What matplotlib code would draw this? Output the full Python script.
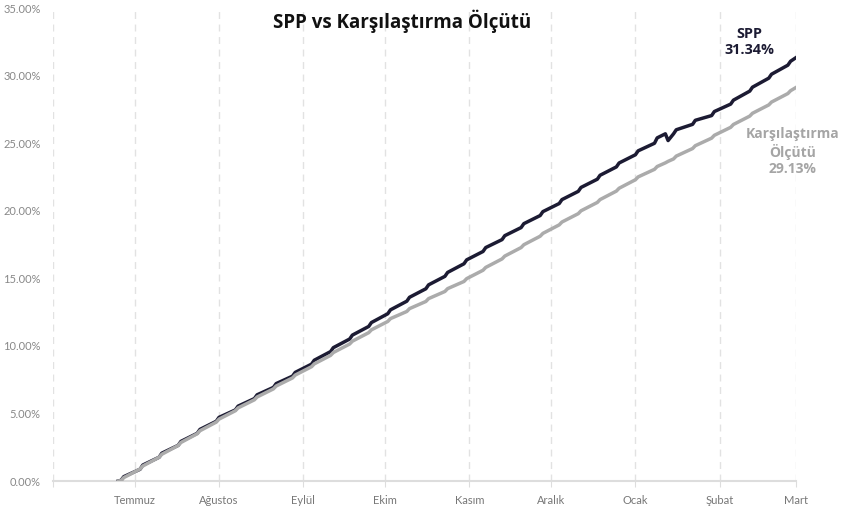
import pandas as pd
import matplotlib.pyplot as plt
from matplotlib.ticker import FuncFormatter

plt.rcParams['font.family'] = ['Lato', 'DejaVu Sans']

# weekly readings (Thursday close, Friday close) in %
thursdays = pd.date_range('2025-06-26', periods=36, freq='7D')

spp_thu = [0.05, 0.87, 1.76, 2.64, 3.53, 4.42, 5.26, 6.10, 6.93, 7.76,
           8.65, 9.58, 10.51, 11.44, 12.38, 13.31, 14.23, 15.15, 16.08, 16.99,
           17.87, 18.76, 19.65, 20.54, 21.44, 22.34, 23.25, 24.15, 25.00, 25.70,
           26.40, 27.05, 27.90, 28.86, 29.82, 30.78]
spp_fri = [0.32, 1.18, 2.06, 2.93, 3.82, 4.71, 5.54, 6.38, 7.21, 8.04,
           8.94, 9.87, 10.80, 11.73, 12.67, 13.60, 14.52, 15.44, 16.37, 17.28,
           18.16, 19.05, 19.94, 20.83, 21.73, 22.63, 23.54, 24.44, 25.40, 26.00,
           26.70, 27.35, 28.19, 29.15, 30.11, 31.07]
bench_thu = [0.03, 0.89, 1.76, 2.63, 3.50, 4.36, 5.20, 6.01, 6.82, 7.63,
             8.46, 9.30, 10.14, 10.98, 11.81, 12.55, 13.29, 14.03, 14.77, 15.60,
             16.44, 17.28, 18.12, 18.96, 19.79, 20.62, 21.46, 22.30, 23.07, 23.84,
             24.61, 25.38, 26.18, 27.01, 27.84, 28.68]
bench_fri = [0.25, 1.11, 1.98, 2.85, 3.72, 4.58, 5.41, 6.22, 7.03, 7.84,
             8.67, 9.51, 10.35, 11.19, 12.02, 12.76, 13.50, 14.24, 14.98, 15.81,
             16.65, 17.49, 18.33, 19.17, 20.00, 20.83, 21.67, 22.51, 23.28, 24.05,
             24.82, 25.59, 26.39, 27.22, 28.05, 28.89]

# extra points: start, mid-January dip, end
extra_dates = pd.to_datetime(['2025-06-25', '2026-01-12', '2026-01-13', '2026-03-01'])
spp_extra = [0.0, 25.70, 25.20, 31.34]
bench_extra = [0.0, 23.55, 23.66, 29.13]

months = ['', 'Temmuz', 'Ağustos', 'Eylül', 'Ekim', 'Kasım', 'Aralık', 'Ocak', 'Şubat', 'Mart']

df = pd.DataFrame({
    'date': list(thursdays) + list(thursdays + pd.Timedelta(days=1)) + list(extra_dates),
    'spp': spp_thu + spp_fri + spp_extra,
    'bench': bench_thu + bench_fri + bench_extra,
}).sort_values('date')

fig = plt.figure(figsize=(8.41, 5.11), dpi=100)
ax = fig.add_axes([0.063, 0.0587, 0.8835, 0.9253])

ax.plot(df['date'], df['spp'], color='#1c1b33', lw=2.5, zorder=3, solid_joinstyle='round')
ax.plot(df['date'], df['bench'], color='#ababab', lw=2.5, zorder=4, solid_joinstyle='round')

ax.set_xlim(pd.Timestamp('2025-06-01'), pd.Timestamp('2026-03-01'))
ax.set_ylim(0, 35)

month_ticks = pd.date_range('2025-06-01', '2026-03-01', freq='MS')
ax.set_xticks(month_ticks)
ax.set_xticklabels(months)
ax.set_yticks(range(0, 36, 5))
ax.yaxis.set_major_formatter(FuncFormatter(lambda v, p: f'{v:.2f}%'))

ax.grid(axis='x', color='#e2e2e2', linestyle=(0, (5, 4)), lw=1)
ax.grid(axis='y', visible=False)
for s in ['top', 'right', 'left']:
    ax.spines[s].set_visible(False)
ax.spines['bottom'].set_color('#dddddd')
ax.spines['bottom'].set_linewidth(1.5)
ax.tick_params(axis='x', colors='#dddddd', labelcolor='#777777', labelsize=8, length=4, pad=6)
ax.tick_params(axis='y', length=0, labelcolor='#888888', labelsize=8, pad=9)

fig.text(0.478, 0.958, 'SPP vs Karşılaştırma Ölçütü', ha='center', va='center',
         fontsize=13.5, fontweight='bold', color='#111111', family='Open Sans')
fig.text(0.891, 0.918, 'SPP\n31.34%', ha='center', va='center', fontsize=10.4,
         fontweight='bold', color='#1c1b33', linespacing=1.2, family='Open Sans')
fig.text(0.9425, 0.703, 'Karşılaştırma\nÖlçütü\n29.13%', ha='center', va='center',
         fontsize=10, fontweight='bold', color='#a5a5a5', linespacing=1.2,
         family='Open Sans')

fig.savefig('out.png', dpi=100)
